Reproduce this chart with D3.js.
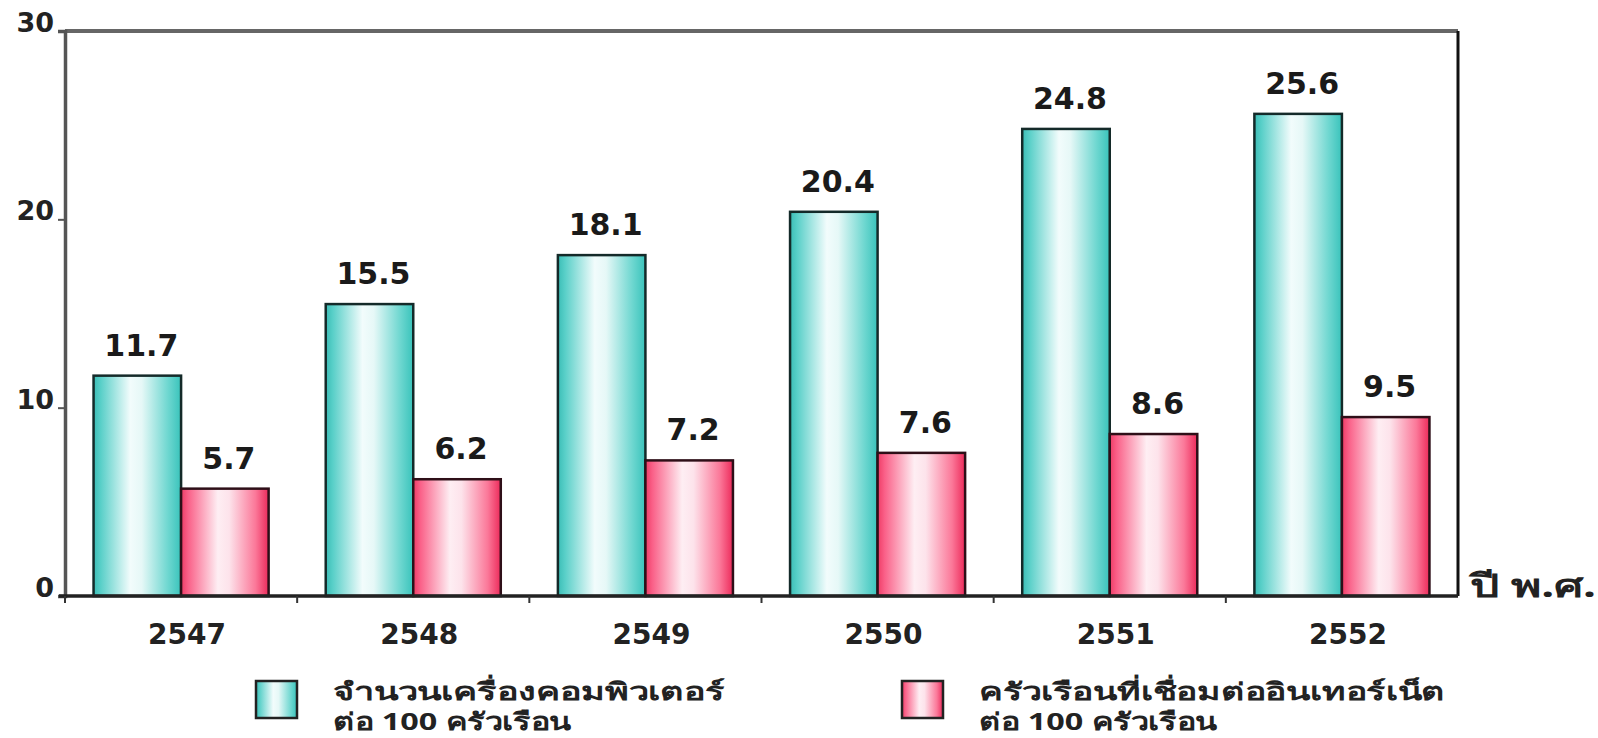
<!DOCTYPE html>
<html><head><meta charset="utf-8">
<script src="https://cdn.jsdelivr.net/npm/d3@7"></script>
<style>html,body{margin:0;padding:0;background:#fff;overflow:hidden}</style>
</head><body>
<svg id="c" width="1598" height="738"></svg>
<script>
const years = ["2547","2548","2549","2550","2551","2552"];
const computers = [11.7,15.5,18.1,20.4,24.8,25.6];
const internet = [5.7,6.2,7.2,7.6,8.6,9.5];
const yTicks = [0,10,20,30];
const seriesNames = [["จำนวนเครื่องคอมพิวเตอร์","ต่อ 100 ครัวเรือน"],["ครัวเรือนที่เชื่อมต่ออินเทอร์เน็ต","ต่อ 100 ครัวเรือน"]];
const xUnit = "ปี พ.ศ.";

const svg = d3.select("#c");
const L=65, R=1458, T=31, B=596;
const font = "'DejaVu Sans', Verdana, Tahoma, sans-serif";
const thaiFont = "Tahoma, 'Noto Sans', 'DejaVu Sans', sans-serif";

const defs = svg.append("defs");
function grad(id, stops){
  const g = defs.append("linearGradient").attr("id",id).attr("x1","0%").attr("x2","100%").attr("y1","0%").attr("y2","0%");
  stops.forEach(s=>g.append("stop").attr("offset",s[0]).attr("stop-color",s[1]));
}
grad("gc",[["0%","#3bbdb6"],["8%","#58cfc8"],["42%","#f2fcfc"],["55%","#e6f8f7"],["85%","#6ed7d0"],["100%","#39c3bb"]]);
grad("gp",[["0%","#ee3c66"],["8%","#fa6088"],["42%","#feeef3"],["55%","#fde3eb"],["85%","#fb7899"],["100%","#ec2a5a"]]);

const x0 = d3.scaleBand().domain(years).range([L,R]).paddingInner(0.246).paddingOuter(0.123);
const x1 = d3.scaleBand().domain([0,1]).range([0,x0.bandwidth()]);
const y = d3.scaleLinear().domain([0,30]).range([B,T]);

// frame: top and right borders
svg.append("line").attr("x1",L).attr("x2",R).attr("y1",y(30)).attr("y2",y(30)).attr("stroke","#666").attr("stroke-width",4);
svg.append("line").attr("x1",R).attr("x2",R).attr("y1",y(30)).attr("y2",B).attr("stroke","#111").attr("stroke-width",3);

// bars
const series = [computers, internet];
const fills = ["url(#gc)","url(#gp)"];
const strokes = ["#142a29","#2e0f18"];
series.forEach((vals,si)=>{
  svg.append("g").selectAll("rect").data(vals).join("rect")
    .attr("x",(d,i)=>x0(years[i])+x1(si))
    .attr("width",x1.bandwidth())
    .attr("y",d=>y(d))
    .attr("height",d=>B-y(d))
    .attr("fill",fills[si]).attr("stroke",strokes[si]).attr("stroke-width",2.5);
  svg.append("g").selectAll("text").data(vals).join("text")
    .attr("x",(d,i)=>x0(years[i])+x1(si)+x1.bandwidth()/2+4)
    .attr("y",d=>y(d)-20)
    .attr("text-anchor","middle")
    .attr("font-family",font).attr("font-weight","bold").attr("font-size",30)
    .attr("fill","#1a1a1a")
    .text(d=>d.toFixed(1));
});

// y axis
const yAxis = svg.append("g").attr("transform",`translate(${L},0)`)
  .call(d3.axisLeft(y).tickValues(yTicks).tickSize(7).tickPadding(4));
yAxis.select(".domain").attr("stroke","#555").attr("stroke-width",3.5);
yAxis.selectAll(".tick line").attr("stroke","#555").attr("stroke-width",2);
yAxis.selectAll(".tick text").attr("font-family",font).attr("font-weight","bold").attr("font-size",27).attr("fill","#222").attr("dy","0.02em");

// x axis
svg.append("line").attr("x1",L-6).attr("x2",R).attr("y1",B).attr("y2",B).attr("stroke","#222").attr("stroke-width",3.5);
const bounds = years.map(d=>x0(d)-x0.step()*x0.paddingOuter());
svg.append("g").selectAll("line").data(bounds).join("line")
  .attr("x1",d=>d).attr("x2",d=>d).attr("y1",B).attr("y2",B+7).attr("stroke","#333").attr("stroke-width",2);
svg.append("g").selectAll("text").data(years).join("text")
  .attr("x",d=>x0(d)+x0.bandwidth()/2+6)
  .attr("y",644)
  .attr("text-anchor","middle")
  .attr("font-family",font).attr("font-weight","bold").attr("font-size",28)
  .attr("fill","#222").text(d=>d);

svg.append("text").attr("x",R+12).attr("y",B+1).attr("font-family",thaiFont).attr("font-weight","bold").attr("font-size",32)
  .attr("textLength",126).attr("lengthAdjust","spacingAndGlyphs").attr("fill","#222").text(xUnit);

// legend
const legX = [256, 902];
const legW = [[392,238],[466,238]];
seriesNames.forEach((lines,si)=>{
  const g = svg.append("g").attr("transform",`translate(${legX[si]},0)`);
  g.append("rect").attr("x",0).attr("y",681).attr("width",41).attr("height",37)
    .attr("fill",fills[si]).attr("stroke","#222").attr("stroke-width",2.5);
  lines.forEach((t,li)=>{
    g.append("text").attr("x",77).attr("y",700+li*30)
      .attr("font-family",thaiFont).attr("font-weight","bold").attr("font-size",24)
      .attr("textLength",legW[si][li]).attr("lengthAdjust","spacingAndGlyphs")
      .attr("fill","#222").text(t);
  });
});
</script>
</body></html>
